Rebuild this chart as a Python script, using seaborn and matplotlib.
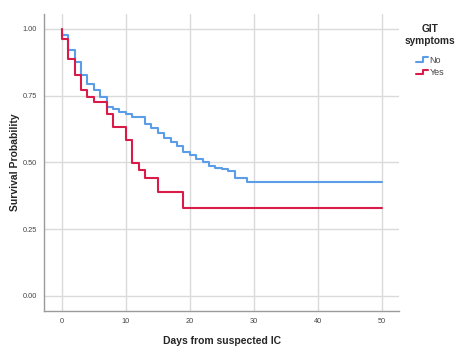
import numpy as np
import pandas as pd
import matplotlib
matplotlib.use("Agg")
import matplotlib.pyplot as plt
import seaborn as sns
from matplotlib.legend_handler import HandlerBase
from matplotlib.lines import Line2D

# Data
days_no = [0, 0, 1, 2, 3, 4, 5, 6, 7, 8, 9, 10, 11, 13, 14, 15, 16, 17, 18, 19, 20, 21, 22, 23, 24, 25, 26, 27, 29, 50]
surv_no = [1.0, 0.977, 0.92, 0.875, 0.827, 0.794, 0.771, 0.744, 0.709, 0.699, 0.69, 0.681, 0.671, 0.644, 0.628,
           0.609, 0.59, 0.578, 0.562, 0.54, 0.528, 0.511, 0.5, 0.487, 0.48, 0.475, 0.469, 0.442, 0.425, 0.425]
days_yes = [0, 0, 1, 2, 3, 4, 5, 7, 8, 10, 11, 12, 13, 15, 19, 50]
surv_yes = [1.0, 0.962, 0.886, 0.827, 0.771, 0.746, 0.727, 0.681, 0.634, 0.584, 0.499, 0.471, 0.442, 0.388, 0.328, 0.328]
groups = ["No", "Yes"]
colors = {"No": "#5b9de6", "Yes": "#d81b48"}
x_ticks = [0, 10, 20, 30, 40, 50]
y_ticks = [0.0, 0.25, 0.5, 0.75, 1.0]
y_ticklabels = ["0.00", "0.25", "0.50", "0.75", "1.00"]

df = pd.DataFrame({
    "Days": days_no + days_yes,
    "Survival": surv_no + surv_yes,
    "GIT": ["No"] * len(days_no) + ["Yes"] * len(days_yes),
})

sns.set_style("white")
plt.rcParams["font.family"] = ["Liberation Sans", "DejaVu Sans"]

fig = plt.figure(figsize=(4.55, 3.47), dpi=100)
ax = fig.add_axes([44 / 455, 1 - 311 / 347, (399 - 44) / 455, (311 - 14) / 347])

sns.lineplot(data=df, x="Days", y="Survival", hue="GIT", palette=colors, estimator=None,
             units="GIT", sort=False, drawstyle="steps-post", lw=1.5, ax=ax, legend=False, zorder=3)

ax.set_xlim(-2.77, 52.7)
ax.set_ylim(-0.057, 1.056)
ax.set_xticks(x_ticks)
ax.set_yticks(y_ticks)
ax.set_yticklabels(y_ticklabels)
ax.grid(True, color="#dadada", lw=1.0, zorder=0)
ax.set_axisbelow(True)
for s in ["top", "right"]:
    ax.spines[s].set_visible(False)
for s in ["left", "bottom"]:
    ax.spines[s].set_color("#9a9a9a")
    ax.spines[s].set_linewidth(1.0)
ax.tick_params(axis="both", length=0, labelsize=5.3, labelcolor="#444444", pad=5)
ax.set_xlabel("Days from suspected IC", fontsize=7.5, fontweight="bold")
ax.set_ylabel("Survival Probability", fontsize=7.5, fontweight="bold")
ax.xaxis.set_label_coords((222 - 44) / 355, (311 - 341) / 297)
ax.yaxis.set_label_coords((15 - 44) / 355, (311 - 162) / 297)
ax.xaxis.label.set_va("center")
ax.yaxis.label.set_va("center")


class StepHandler(HandlerBase):
    def create_artists(self, legend, orig_handle, xdescent, ydescent, width, height, fontsize, trans):
        x0 = -xdescent
        xs = [x0, x0 + width * 0.55, x0 + width * 0.55, x0 + width]
        ys = [height * 0.15, height * 0.15, height * 0.85, height * 0.85]
        ys = [y - ydescent for y in ys]
        line = Line2D(xs, ys, color=orig_handle.get_color(), lw=1.5, transform=trans)
        return [line]


handles = [Line2D([], [], color=colors[g]) for g in groups]
leg = fig.legend(handles, groups, loc="upper center", bbox_to_anchor=(430 / 455, 1 - 18 / 347),
                 frameon=False, title="GIT\nsymptoms", fontsize=6.5, title_fontsize=7.3,
                 handlelength=1.4, handletextpad=0.15, labelspacing=0.4, borderpad=0.2,
                 handler_map={Line2D: StepHandler()})
leg._legend_box.sep = 7
leg.get_title().set_fontweight("bold")
leg.get_title().set_multialignment("center")
for t in leg.get_texts():
    t.set_color("#444444")

fig.savefig("out.png", dpi=100)
